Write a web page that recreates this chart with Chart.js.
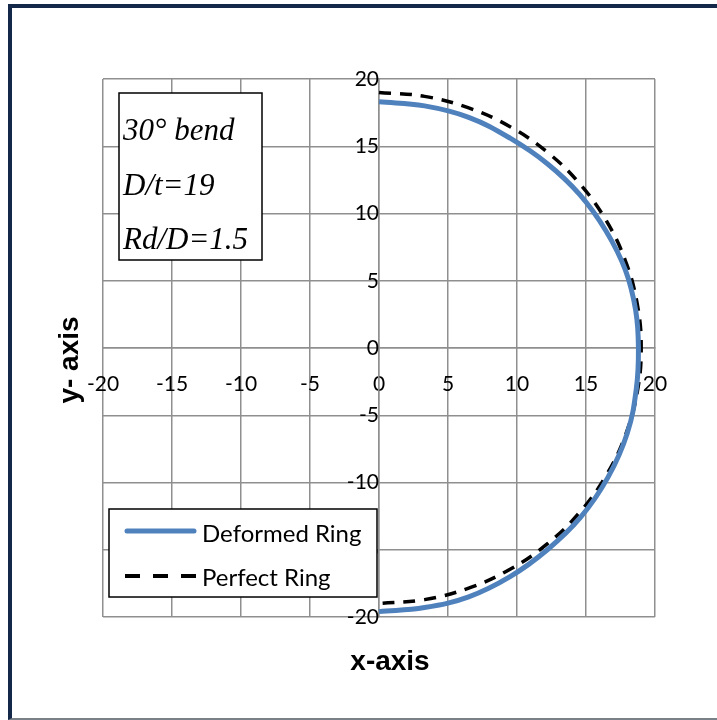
<!DOCTYPE html>
<html>
<head>
<meta charset="utf-8">
<script src="https://cdn.jsdelivr.net/npm/chart.js@4"></script>
<style>
  html, body { margin: 0; padding: 0; background: #fff; }
  #wrap { position: relative; width: 717px; height: 720px; overflow: hidden; }
  #frame {
    position: absolute; left: 8px; top: 4px; width: 720px; height: 710px;
    border-left: 4px solid #14294a; border-top: 4px solid #14294a;
    border-bottom: 2px solid #7a8088;
  }
  canvas { position: absolute; left: 0; top: 0; }
</style>
</head>
<body>
<div id="wrap">
  <div id="frame"></div>
  <canvas id="ringChart" width="717" height="720"></canvas>
</div>
<script>
// axis ticks
const xTicks = [-20, -15, -10, -5, 0, 5, 10, 15, 20];
const yTicks = [-20, -15, -10, -5, 0, 5, 10, 15, 20];

// Deformed ring
const deformedX = [0, 3.3, 6.5, 9.5, 12.2, 14.55, 16.45, 17.85, 18.6, 18.8, 18.65, 18.0, 16.6, 14.6, 12.2, 9.5, 6.5, 3.3, 0];
const deformedY = [18.3, 18.0, 17.15, 15.6, 13.7, 11.4, 8.7, 5.8, 2.8, 0, -3.0, -6.3, -9.6, -12.6, -15.0, -17.0, -18.5, -19.3, -19.6];

// Perfect ring
const perfectX = [0, 3.3, 6.5, 9.5, 12.21, 14.55, 16.45, 17.85, 18.71, 19.0, 18.71, 17.85, 16.45, 14.55, 12.21, 9.5, 6.5, 3.3, 0];
const perfectY = [19.0, 18.71, 17.85, 16.45, 14.55, 12.21, 9.5, 6.5, 3.3, 0, -3.3, -6.5, -9.5, -12.21, -14.55, -16.45, -17.85, -18.71, -19.0];

const noteLines = ['30° bend', 'D/t=19', 'Rd/D=1.5'];

const toPoints = (xs, ys) => xs.map((x, i) => ({ x: x, y: ys[i] }));

const gridColor = '#8f8f8f';
const tickFont = { family: 'Lato', size: 21 };

// text box, legend and axis titles
const extras = {
  id: 'extras',
  afterDraw(chart) {
    const c = chart.ctx;
    c.save();

    // note box
    c.fillStyle = '#fff';
    c.fillRect(119, 93, 143, 167);
    c.strokeStyle = '#000';
    c.lineWidth = 1.5;
    c.strokeRect(119, 93, 143, 167);
    c.fillStyle = '#000';
    c.font = 'italic 31px "Liberation Serif"';
    c.textBaseline = 'alphabetic';
    c.textAlign = 'left';
    noteLines.forEach((t, i) => c.fillText(t, 123, 140 + i * 54.5));

    // legend
    c.fillStyle = '#fff';
    c.fillRect(109, 509, 268, 88);
    c.strokeStyle = '#000';
    c.lineWidth = 1.5;
    c.strokeRect(109, 509, 268, 88);
    const ds = chart.data.datasets;
    c.font = '24px Lato';
    c.textBaseline = 'alphabetic';
    // deformed
    c.strokeStyle = ds[0].borderColor;
    c.lineWidth = 5;
    c.lineCap = 'round';
    c.beginPath(); c.moveTo(127, 531); c.lineTo(194, 531); c.stroke();
    c.fillStyle = '#000';
    c.fillText(ds[0].label, 202, 542);
    // perfect
    c.strokeStyle = ds[1].borderColor;
    c.lineWidth = 4;
    c.lineCap = 'butt';
    c.setLineDash([15, 13]);
    c.beginPath(); c.moveTo(125, 576); c.lineTo(196, 576); c.stroke();
    c.setLineDash([]);
    c.fillText(ds[1].label, 202, 586);

    // axis titles
    c.font = 'bold 28px "Liberation Sans"';
    c.textAlign = 'center';
    c.fillText('x-axis', 390, 670);
    c.translate(78, 360);
    c.rotate(-Math.PI / 2);
    c.fillText('y- axis', 0, 0);
    c.restore();
  }
};

const ctx = document.getElementById('ringChart').getContext('2d');
const ringChart = new Chart(ctx, {
  type: 'scatter',
  data: {
    datasets: [{
      label: 'Deformed Ring',
      data: toPoints(deformedX, deformedY),
      showLine: true,
      borderColor: '#4f81bd',
      borderWidth: 5,
      pointRadius: 0,
      tension: 0.4,
      fill: false
    }, {
      label: 'Perfect Ring',
      data: toPoints(perfectX, perfectY),
      showLine: true,
      borderColor: '#000',
      borderWidth: 3.5,
      borderDash: [12, 9],
      pointRadius: 0,
      tension: 0.4,
      fill: false
    }]
  },
  options: {
    responsive: false,
    animation: false,
    layout: { padding: { left: 103, top: 79, right: 62, bottom: 103 } },
    plugins: {
      legend: { display: false },
      tooltip: { enabled: false }
    },
    scales: {
      x: {
        type: 'linear',
        min: -20, max: 20,
        position: { y: 0 },
        afterFit: (s) => { s.height = 0; },
        afterBuildTicks: (s) => { s.ticks = xTicks.map(v => ({ value: v })); },
        grid: { color: gridColor, lineWidth: 1.5, drawTicks: false },
        border: { color: gridColor, width: 1.5 },
        ticks: { color: '#000', font: tickFont, padding: 24, maxRotation: 0 }
      },
      y: {
        type: 'linear',
        min: -20, max: 20,
        position: { x: 0 },
        afterFit: (s) => { s.width = 0; },
        afterBuildTicks: (s) => { s.ticks = yTicks.map(v => ({ value: v })); },
        grid: { color: gridColor, lineWidth: 1.5, drawTicks: false },
        border: { color: gridColor, width: 1.5 },
        ticks: { color: '#000', font: tickFont, padding: 26 }
      }
    }
  },
  plugins: [extras]
});
</script>
</body>
</html>
